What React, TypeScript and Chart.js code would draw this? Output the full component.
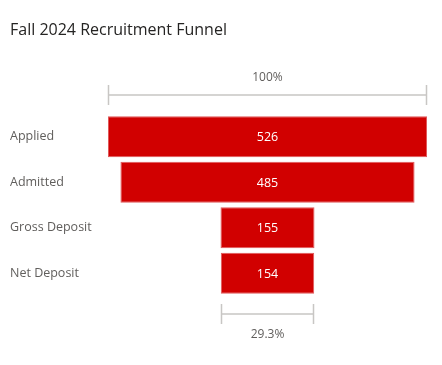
import React, { useEffect, useRef } from "react";
import { Chart, registerables } from "chart.js";

Chart.register(...registerables);

const title = "Fall 2024 Recruitment Funnel";
const stages = ["Applied", "Admitted", "Gross Deposit", "Net Deposit"];
const counts = [526, 485, 155, 154];
const barColor = "#D10000";
const font = "'Open Sans', 'Noto Sans', sans-serif";

export default function App() {
  const ref = useRef<HTMLCanvasElement | null>(null);

  useEffect(() => {
    document.body.style.margin = "0";
    const maxV = Math.max(...counts);
    const ranges = counts.map((v) => [(maxV - v) / 2, (maxV + v) / 2]);

    const overlay = {
      id: "funnelOverlay",
      afterDatasetsDraw(chart: any) {
        const ctx = chart.ctx;
        const x = chart.scales.x;
        const y = chart.scales.y;
        ctx.save();
        // title
        ctx.fillStyle = "#252423";
        ctx.font = `16px ${font}`;
        ctx.textAlign = "left";
        ctx.textBaseline = "middle";
        ctx.fillText(title, 10, 30);

        // value labels
        ctx.fillStyle = "#ffffff";
        ctx.font = `12.5px ${font}`;
        ctx.textAlign = "center";
        counts.forEach((v, i) => {
          const cx = (x.getPixelForValue(ranges[i][0]) + x.getPixelForValue(ranges[i][1])) / 2;
          ctx.fillText(String(v), cx, y.getPixelForValue(i) + 1);
        });

        const bracket = (i: number, yy: number, label: string, labelY: number) => {
          const x0 = Math.round(x.getPixelForValue(ranges[i][0])) + 0.5;
          const x1 = Math.round(x.getPixelForValue(ranges[i][1])) - 0.5;
          ctx.strokeStyle = "#C8C6C4";
          ctx.lineWidth = 1.5;
          ctx.beginPath();
          ctx.moveTo(x0, yy);
          ctx.lineTo(x1, yy);
          ctx.moveTo(x0, yy - 10);
          ctx.lineTo(x0, yy + 10);
          ctx.moveTo(x1, yy - 10);
          ctx.lineTo(x1, yy + 10);
          ctx.stroke();
          ctx.fillStyle = "#605E5C";
          ctx.font = `12px ${font}`;
          ctx.textAlign = "center";
          ctx.fillText(label, (x0 + x1) / 2, labelY);
        };
        const last = counts.length - 1;
        bracket(0, 95, "100%", 78);
        bracket(last, 314, ((counts[last] / counts[0]) * 100).toFixed(1) + "%", 335);
        ctx.restore();
      },
    };

    const chart = new Chart(ref.current as HTMLCanvasElement, {
      type: "bar",
      data: {
        labels: stages,
        datasets: [
          {
            data: ranges as any,
            backgroundColor: barColor,
            borderColor: "#E0585A",
            borderWidth: 1,
            borderSkipped: false,
            barPercentage: 0.905,
            categoryPercentage: 1,
          },
        ],
      },
      options: {
        indexAxis: "y",
        animation: false,
        responsive: false,
        maintainAspectRatio: false,
        layout: { padding: { left: 10, right: 15, top: 114, bottom: 69 } },
        plugins: {
          legend: { display: false },
          tooltip: { enabled: false },
          title: { display: false },
        },
        scales: {
          x: { display: false, min: 0, max: maxV },
          y: {
            grid: { display: false, drawTicks: false },
            border: { display: false },
            ticks: {
              crossAlign: "far",
              padding: 0,
              color: "#605E5C",
              font: { family: font, size: 12.5 },
            },
            afterFit(scale: any) {
              scale.width = 98;
            },
          },
        },
      },
      plugins: [overlay],
    } as any);
    return () => chart.destroy();
  }, []);

  return (
    <div style={{ width: 442, height: 365, background: "#fff" }}>
      <canvas ref={ref} width={442} height={365} style={{ display: "block" }} />
    </div>
  );
}
